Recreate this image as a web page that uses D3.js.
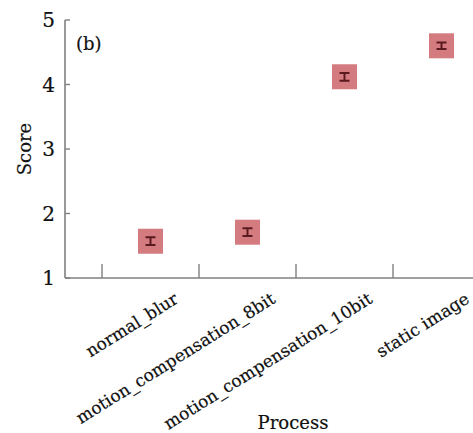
<!DOCTYPE html>
<html>
<head>
<meta charset="utf-8">
<script src="https://cdn.jsdelivr.net/npm/d3@7"></script>
<style>
  body { margin: 0; background: #fff; }
  text { font-family: "DejaVu Serif", "Liberation Serif", serif; fill: #111; stroke: #111; stroke-width: 0.2px; }
</style>
</head>
<body>
<script>
const processes = ['normal_blur', 'motion_compensation_8bit', 'motion_compensation_10bit', 'static image'];
const scores = [1.57, 1.71, 4.12, 4.60];
const errors = [0.06, 0.06, 0.06, 0.05];
const yTicks = [1, 2, 3, 4, 5];

const width = 473, height = 433;

const svg = d3.select('body').append('svg')
  .attr('width', width)
  .attr('height', height)
  .attr('viewBox', [0, 0, width, height]);

// band scale runs past the right edge, as in the cropped original
const x = d3.scaleBand().domain(processes).range([102, 490]);
const y = d3.scaleLinear().domain([1, 5]).range([278, 20]);
const axisLeft = 65;
const axisColor = '#808080';

// axes lines
svg.append('line')
  .attr('x1', axisLeft).attr('x2', width + 10)
  .attr('y1', y(1)).attr('y2', y(1))
  .attr('stroke', axisColor).attr('stroke-width', 1.6);
svg.append('line')
  .attr('x1', axisLeft).attr('x2', axisLeft)
  .attr('y1', y(1)).attr('y2', y(5))
  .attr('stroke', axisColor).attr('stroke-width', 1.6);

// y ticks (inward) and labels
svg.selectAll('.ytick')
  .data(yTicks)
  .enter().append('line')
  .attr('x1', axisLeft).attr('x2', axisLeft + 5)
  .attr('y1', d => y(d)).attr('y2', d => y(d))
  .attr('stroke', axisColor).attr('stroke-width', 1.4);
svg.selectAll('.ylab')
  .data(yTicks)
  .enter().append('text')
  .attr('x', axisLeft - 10)
  .attr('y', d => y(d))
  .attr('dy', '0.35em')
  .attr('text-anchor', 'end')
  .style('font-size', '20px')
  .text(d => d);

// x ticks at band starts, pointing up
svg.selectAll('.xtick')
  .data(processes)
  .enter().append('line')
  .attr('x1', d => x(d)).attr('x2', d => x(d))
  .attr('y1', y(1)).attr('y2', y(1) - 14)
  .attr('stroke', axisColor).attr('stroke-width', 1.4);

// rotated category labels
svg.selectAll('.xlab')
  .data(processes)
  .enter().append('text')
  .attr('text-anchor', 'end')
  .attr('transform', d => `translate(${x(d) + x.bandwidth() / 2 + 29},${y(1) + 24}) rotate(-32)`)
  .style('font-size', '17px')
  .text(d => d);

// markers
const pts = svg.selectAll('.pt')
  .data(processes.map((p, i) => ({p, v: scores[i], e: errors[i]})))
  .enter().append('g')
  .attr('transform', d => `translate(${x(d.p) + x.bandwidth() / 2},${y(d.v)})`);

pts.append('rect')
  .attr('x', -12.5).attr('y', -12.5)
  .attr('width', 25).attr('height', 25)
  .attr('fill', '#d47b80');

pts.append('path')
  .attr('d', d => {
    const t = y(d.v + d.e) - y(d.v), b = y(d.v - d.e) - y(d.v);
    return `M-5,${t}H5M0,${t}V${b}M-5,${b}H5`;
  })
  .attr('stroke', '#5a1a1e')
  .attr('stroke-width', 2)
  .attr('fill', 'none');

// titles
svg.append('text')
  .attr('x', 76).attr('y', 50)
  .style('font-size', '18px')
  .text('(b)');

svg.append('text')
  .attr('transform', `translate(31,${(y(1) + y(5)) / 2}) rotate(-90)`)
  .attr('text-anchor', 'middle')
  .style('font-size', '18px')
  .text('Score');

svg.append('text')
  .attr('x', 293).attr('y', 429)
  .attr('text-anchor', 'middle')
  .style('font-size', '18px')
  .text('Process');
</script>
</body>
</html>
